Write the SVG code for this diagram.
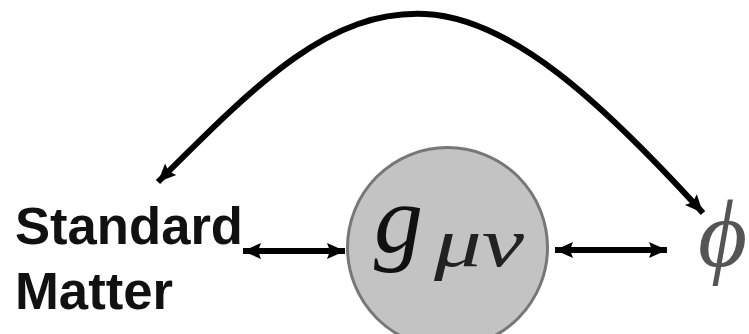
<svg xmlns="http://www.w3.org/2000/svg" width="749" height="334" viewBox="0 0 749 334">
<style>
.lbl{font-family:"Liberation Sans",Arial,sans-serif;font-weight:bold;font-size:51px;fill:#111}
.math{font-family:"Liberation Serif","Times New Roman",serif;font-style:italic}
.conn{fill:none;stroke:#000;stroke-width:6}
</style>
<defs>
<marker id="ah" markerUnits="userSpaceOnUse" markerWidth="24" markerHeight="24" viewBox="0 0 24 24" refX="21" refY="12" orient="auto-start-reverse">
<path d="M3,4 L21,12 L3,20 L6,12 Z" fill="#000"/>
</marker>
</defs>
<rect width="749" height="334" fill="#fff"/>
<g id="connectors">
<path class="conn" d="M158,182 C260,80 330,10 425,14 C510,18 600,100 703,213" marker-start="url(#ah)" marker-end="url(#ah)"/>
<line class="conn" x1="243" y1="251" x2="345" y2="251" marker-start="url(#ah)" marker-end="url(#ah)"/>
<line class="conn" x1="555" y1="250" x2="667" y2="250" marker-start="url(#ah)" marker-end="url(#ah)"/>
</g>
<g id="standard-matter">
<text class="lbl" x="15" y="244" textLength="228" lengthAdjust="spacingAndGlyphs">Standard</text>
<text class="lbl" x="15" y="309" textLength="158" lengthAdjust="spacingAndGlyphs">Matter</text>
</g>
<g id="metric">
<circle cx="447.5" cy="247.5" r="100" fill="#c3c3c3" stroke="#777" stroke-width="3"/>
<text class="math" x="374" y="252" font-size="98" fill="#111">g</text>
<text class="math" x="434" y="266" font-size="70" fill="#222" textLength="90" lengthAdjust="spacingAndGlyphs">μν</text>
</g>
<g id="phi">
<text class="math" x="698" y="266" font-size="95" fill="#555">ϕ</text>
</g>
</svg>
